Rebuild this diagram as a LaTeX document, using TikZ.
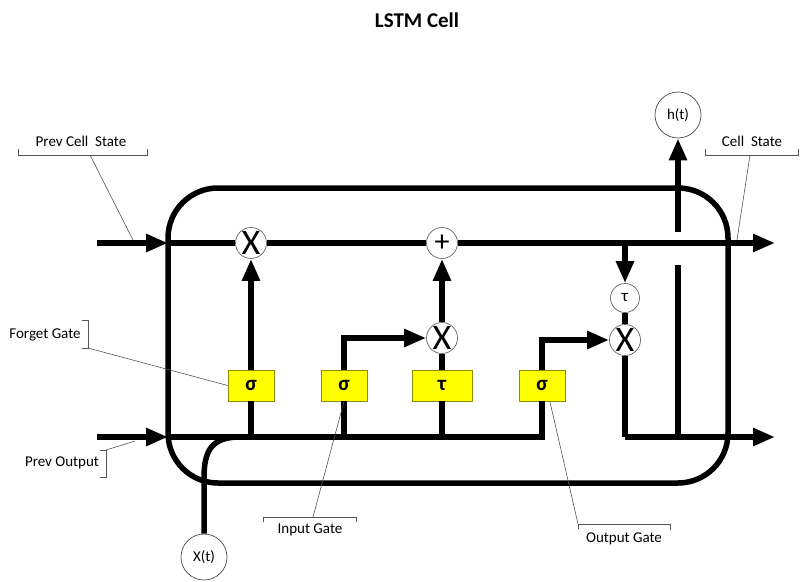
\documentclass[tikz,border=0pt]{standalone}
\usepackage{fontspec}
\setmainfont{Carlito}
\usetikzlibrary{arrows.meta}
\definecolor{gateyellow}{HTML}{FFFF00}
\definecolor{gateedge}{HTML}{8C8C00}
\definecolor{callgray}{HTML}{555555}
\begin{document}
\begin{tikzpicture}[x=1pt,y=-1pt,
  flow/.style={line width=5.5pt, line join=miter},
  arr/.style={flow, -{Triangle[length=22pt,width=17pt]}},
  opcircle/.style={circle, draw=black!60, line width=0.7pt, fill=white, inner sep=0pt, minimum size=31pt},
  iocircle/.style={circle, draw=black!70, line width=0.7pt, fill=white, inner sep=0pt, minimum size=46pt, font=\fontsize{15}{16}\selectfont},
  gatebox/.style={rectangle, draw=gateedge, line width=0.8pt, fill=gateyellow, inner sep=0pt, minimum width=46pt, minimum height=31pt, font=\bfseries\fontsize{21}{22}\selectfont},
  callout/.style={draw=callgray, line width=0.6pt},
  lbl/.style={font=\fontsize{15}{17}\selectfont, inner sep=0pt}
]
\useasboundingbox (0,0) rectangle (800,581);
\fill[white] (0,0) rectangle (800,581);

% title
\node[font=\bfseries\fontsize{21}{24}\selectfont] (title) at (417,20) {LSTM Cell};

% cell boundary
\draw[flow, rounded corners=50pt] (168,188) rectangle (728,483);

% operation circles
\node[opcircle, font=\fontsize{36}{36}\selectfont] (mf) at (251,243) {X};
\node[opcircle, font=\fontsize{30}{30}\selectfont] (add) at (442,243) {+};
\node[opcircle, font=\fontsize{36}{36}\selectfont] (mi) at (442,338) {X};
\node[opcircle, minimum size=29pt, font=\fontsize{17}{17}\selectfont] (tc) at (625,298) {τ};
\node[opcircle, font=\fontsize{36}{36}\selectfont] (mo) at (625,340) {X};
\node[iocircle] (ht) at (678,115) {h(t)};
\node[iocircle] (xt) at (204,557) {X(t)};

% gates
\node[gatebox] (fg) at (251,385.5) {σ};
\node[gatebox] (ig) at (344,385.5) {σ};
\node[gatebox, minimum width=60pt] (cg) at (442,385.5) {τ};
\node[gatebox] (og) at (542,385.5) {σ};

% coordinates
\coordinate (csin) at (97,243);
\coordinate (cL) at (168,243);
\coordinate (csout) at (775,243);
\coordinate (tap) at (625,243);
\coordinate (poin) at (97,437);
\coordinate (pL) at (168,437);
\coordinate (obend) at (625,437);
\coordinate (pout) at (775,437);
\coordinate (hlow) at (678,437);
\coordinate (hgapb) at (678,265);
\coordinate (hgapt) at (678,232);
\coordinate (xmerge) at (240,437);

% cell state line
\draw[arr] (csin) -- (cL);
\draw[flow] (cL) -- (mf.west);
\draw[flow] (mf.east) -- (add.west);
\draw[arr] (add.east) -- (csout);
\draw[arr] (tap) -- (tc.north);
\draw[flow] (tc.south) -- (mo.north);

% previous output / input line
\draw[arr] (poin) -- (pL);
\draw[flow] (pL) -- (og.south |- pL) -- (og.south);
\draw[flow] (xt.north) -- (204,478) .. controls (204,450) and (212,437) .. (xmerge);

% forget gate
\draw[flow] (fg.south) -- (fg.south |- pL);
\draw[arr] (fg.north) -- (mf.south);
% input gate
\draw[flow] (ig.south) -- (ig.south |- pL);
\draw[arr] (ig.north) -- (ig.north |- mi) -- (mi.west);
% candidate
\draw[flow] (cg.south) -- (cg.south |- pL);
\draw[flow] (cg.north) -- (mi.south);
\draw[arr] (mi.north) -- (add.south);
% output gate
\draw[arr] (og.north) -- (og.north |- mo) -- (mo.west);
% output
\draw[flow] (mo.south) -- (obend);
\draw[arr] (obend) -- (pout);
\draw[flow] (hlow) -- (hgapb);
\draw[arr] (hgapt) -- (ht.south);

% callouts
\node[lbl] (lpcs) at (81,141) {Prev Cell\ \ State};
\draw[callout] (18,149) -- (18,155) -- (147,155) -- (147,149);
\draw[callout] (90,155) -- (133,240);

\node[lbl] (lcs) at (752,141) {Cell\ \ State};
\draw[callout] (705,149) -- (705,155) -- (798,155) -- (798,149);
\draw[callout] (750,155) -- (737,240);

\node[lbl] (lfg) at (45,335) {Forget Gate};
\draw[callout] (82,320) -- (88,320) -- (88,348) -- (82,348);
\draw[callout] (88,348) -- (fg.west);

\node[lbl] (lpo) at (62,463) {Prev Output};
\draw[callout] (100,450) -- (106,450) -- (106,477) -- (100,477);
\draw[callout] (106,450) -- (135,441);

\node[lbl] (lig) at (310,530) {Input Gate};
\draw[callout] (263,522) -- (263,517) -- (356,517) -- (356,522);
\draw[callout] (313,517) -- (ig.south);

\node[lbl] (log) at (624,539) {Output Gate};
\draw[callout] (578,529) -- (578,524) -- (670,524) -- (670,530);
\draw[callout] (578,524) -- (550,402);
\end{tikzpicture}
\end{document}
